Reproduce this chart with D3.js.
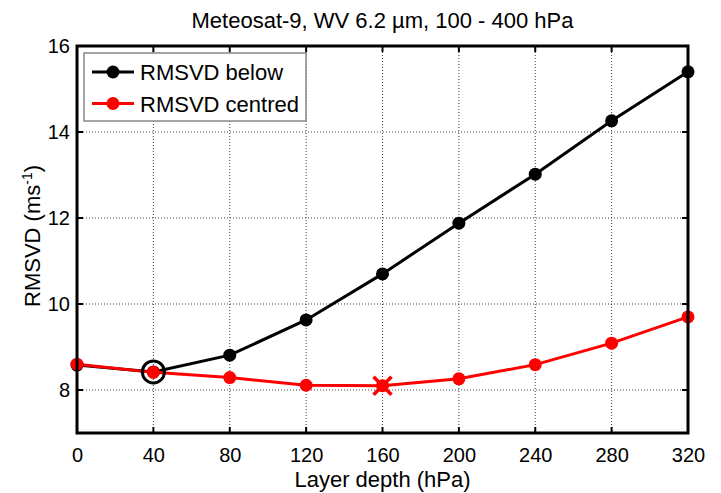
<!DOCTYPE html>
<html><head><meta charset="utf-8">
<script src="https://cdn.jsdelivr.net/npm/d3@7"></script>
<style>body{margin:0;background:#fff}text{font-family:"Liberation Sans",Arial,sans-serif}</style>
</head><body><svg id="c" width="721" height="493"></svg>
<script>
const depths = [0,40,80,120,160,200,240,280,320];
const below = [8.58,8.42,8.81,9.63,10.70,11.88,13.02,14.26,15.40];
const centred = [8.60,8.41,8.29,8.11,8.10,8.26,8.59,9.09,9.70];
const xTicks = [0,40,80,120,160,200,240,280,320];
const yTicks = [8,10,12,14,16];
const seriesNames = ["RMSVD below","RMSVD centred"];
const colors = ["#000000","#ff0000"];

const svg = d3.select("#c");
const L=77,R=688,T=46,B=433;
const x = d3.scaleLinear().domain([0,320]).range([L,R]);
const y = d3.scaleLinear().domain([7,16]).range([B,T]);
const FS = 20, LFS = 22;

// grid
const g = svg.append("g");
g.selectAll(".vg").data(xTicks.slice(1,-1)).join("line")
 .attr("x1",d=>x(d)).attr("x2",d=>x(d)).attr("y1",T).attr("y2",B)
 .attr("stroke","#000").attr("stroke-width",1).attr("stroke-dasharray","1,2").attr("opacity",0.75);
g.selectAll(".hg").data(yTicks.slice(0,-1)).join("line")
 .attr("x1",L).attr("x2",R).attr("y1",d=>y(d)).attr("y2",d=>y(d))
 .attr("stroke","#000").attr("stroke-width",1).attr("stroke-dasharray","1,2").attr("opacity",0.75);

// axes
const ax = d3.axisBottom(x).tickValues(xTicks).tickSize(0).tickPadding(15);
svg.append("g").attr("transform",`translate(0,${B})`).call(ax)
 .call(s=>s.select(".domain").remove())
 .call(s=>s.attr("font-size",FS).attr("font-family","Liberation Sans, Arial"))
 .selectAll("text").attr("fill","#000");
const ay = d3.axisLeft(y).tickValues(yTicks).tickSize(0).tickPadding(7);
svg.append("g").attr("transform",`translate(${L},0)`).call(ay)
 .call(s=>s.select(".domain").remove())
 .call(s=>s.attr("font-size",FS).attr("font-family","Liberation Sans, Arial"))
 .selectAll("text").attr("fill","#000");

// inner ticks
const tk = svg.append("g").attr("stroke","#000").attr("stroke-width",2);
xTicks.slice(1,-1).forEach(d=>{
  tk.append("line").attr("x1",x(d)).attr("x2",x(d)).attr("y1",B).attr("y2",B-6);
  tk.append("line").attr("x1",x(d)).attr("x2",x(d)).attr("y1",T).attr("y2",T+6);
});
yTicks.slice(0,-1).forEach(d=>{
  tk.append("line").attr("x1",L).attr("x2",L+6).attr("y1",y(d)).attr("y2",y(d));
  tk.append("line").attr("x1",R).attr("x2",R-6).attr("y1",y(d)).attr("y2",y(d));
});

// lines
const line = d3.line().x((d,i)=>x(depths[i])).y(d=>y(d));
[below,centred].forEach((s,k)=>{
  svg.append("path").datum(s).attr("d",line).attr("fill","none")
   .attr("stroke",colors[k]).attr("stroke-width",3);
});
[below,centred].forEach((s,k)=>{
  svg.append("g").selectAll("circle").data(s).join("circle")
   .attr("cx",(d,i)=>x(depths[i])).attr("cy",d=>y(d)).attr("r",6.5).attr("fill",colors[k]);
});

// highlight markers
svg.append("circle").attr("cx",x(depths[1])).attr("cy",y(below[1])).attr("r",11)
 .attr("fill","none").attr("stroke","#000").attr("stroke-width",3);
const xm = x(depths[4]), ym = y(centred[4]), h=9;
svg.append("path").attr("d",`M${xm-h},${ym-h}L${xm+h},${ym+h}M${xm-h},${ym+h}L${xm+h},${ym-h}`)
 .attr("stroke","#ff0000").attr("stroke-width",3.5);

// frame
svg.append("rect").attr("x",L).attr("y",T).attr("width",R-L).attr("height",B-T)
 .attr("fill","none").attr("stroke","#000").attr("stroke-width",3);

// legend
const lg = svg.append("g");
lg.append("rect").attr("x",84).attr("y",53).attr("width",222).attr("height",68)
 .attr("fill","#fff").attr("stroke","#888").attr("stroke-width",1.5);
seriesNames.forEach((n,k)=>{
  const yy = 72 + k*31.5;
  lg.append("line").attr("x1",92).attr("x2",134).attr("y1",yy).attr("y2",yy)
   .attr("stroke",colors[k]).attr("stroke-width",3);
  lg.append("circle").attr("cx",113).attr("cy",yy).attr("r",6.5).attr("fill",colors[k]);
  lg.append("text").attr("x",140).attr("y",yy+8).attr("font-size",22).text(n);
});

// title & labels
svg.append("text").attr("x",(L+R)/2).attr("y",28).attr("text-anchor","middle")
 .attr("font-size",LFS).text("Meteosat-9, WV 6.2 \u00b5m, 100 - 400 hPa");
svg.append("text").attr("x",(L+R)/2).attr("y",487).attr("text-anchor","middle")
 .attr("font-size",LFS).text("Layer depth (hPa)");
const yl = svg.append("text").attr("transform",`translate(40,236) rotate(-90)`)
 .attr("text-anchor","middle").attr("font-size",LFS);
yl.append("tspan").text("RMSVD (ms");
yl.append("tspan").attr("dy",-8).attr("font-size",14).text("-1");
yl.append("tspan").attr("dy",8).text(")");
</script></body></html>
